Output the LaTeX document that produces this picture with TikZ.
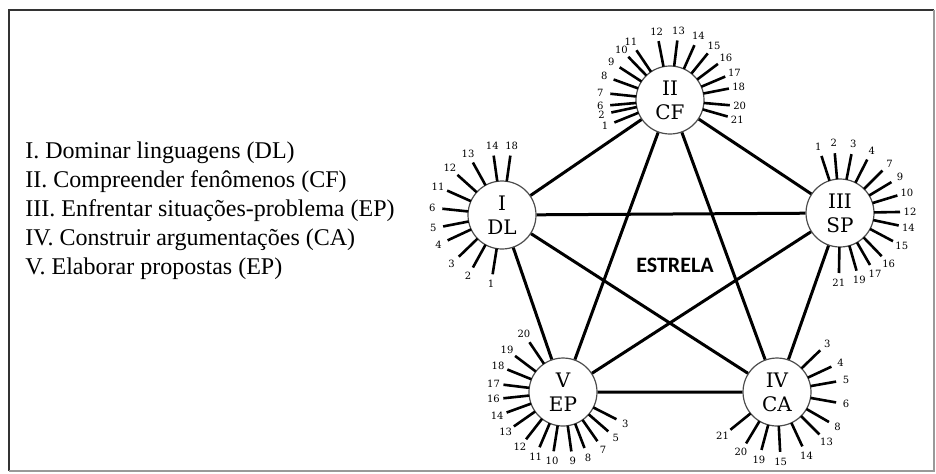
\documentclass[tikz,border=0pt]{standalone}
\usepackage{fontspec}
\setmainfont{Liberation Serif}
\newfontfamily\compfont{DejaVu Serif}
\newfontfamily\starfont{Carlito}

% radial ticks with their numbers round a competence
\newcommand{\spokes}[2]{%
  \foreach \a/\n in {#2} {
    \draw[spoke] ([shift={(\a:17pt)}]#1.center) -- ([shift={(\a:30pt)}]#1.center);
    \node[spokenum] (#1-\n) at ([shift={(\a:35pt)}]#1.center) {\n};
  }}

\begin{document}
\begin{tikzpicture}[x=0.5pt,y=-0.5pt,
  comp/.style={circle,draw=black!70,line width=0.6pt,fill=white,minimum size=34pt,
    inner sep=0pt,align=center,font=\compfont\fontsize{10}{12}\selectfont},
  link/.style={line width=1.5pt},
  spoke/.style={line width=1.3pt},
  spokenum/.style={inner sep=0pt,font=\compfont\fontsize{5}{6}\selectfont},
  item/.style={anchor=base west,inner sep=0pt,font=\fontsize{12}{14}\selectfont}]
\useasboundingbox (0,0) rectangle (936,473);
\draw[black!80,line width=1pt] (9,471) -- (9,10) -- (934,10);
\draw[black!40,line width=1pt] (934,10) -- (934,471) -- (9,471);

% list of competences
\node[item] (t1) at (25,158) {I. Dominar linguagens (DL)};
\node[item] (t2) at (25,187) {II. Compreender fenômenos (CF)};
\node[item] (t3) at (25,216) {III. Enfrentar situações-problema (EP)};
\node[item] (t4) at (25,245) {IV. Construir argumentações (CA)};
\node[item] (t5) at (25,274) {V. Elaborar propostas (EP)};

% the five points of the star
\node[comp] (I)   at (502,215) {I\\DL};
\node[comp] (II)  at (670,100) {II\\CF};
\node[comp] (III) at (840,213) {III\\SP};
\node[comp] (IV)  at (777,392) {IV\\CA};
\node[comp] (V)   at (563,392) {V\\EP};

\draw[link] (I) -- (II) -- (III) -- (IV) -- (V) -- (I);
\draw[link] (I) -- (III);
\draw[link] (I) -- (IV);
\draw[link] (II) -- (IV);
\draw[link] (II) -- (V);
\draw[link] (III) -- (V);

\node[font=\starfont\bfseries\fontsize{11}{13}\selectfont] (star) at (675,265) {ESTRELA};

\spokes{I}{82/18,98/14,119/13,138/12,156/11,174/6,191/5,205/4,224/3,241/2,261/1}
\spokes{II}{202/1,192/2,185/6,174/7,160/8,147/9,134/10,124/11,101/12,83/13,66/14,51/15,37/16,23/17,11/18,-5/20,-16/21}
\spokes{III}{108/1,95/2,79/3,63/4,45/7,31/9,17/10,1/12,-12/14,-28/15,-46/16,-60/17,-74/19,-91/21}
\spokes{IV}{44/3,25/4,10/5,-10/6,-30/8,-45/13,-65/14,-87/15,-105/19,-121/20,-141/21}
\spokes{V}{124/20,143/19,158/18,173/17,186/16,200/14,215/13,232/12,247/11,261/10,278/9,291/8,305/7,319/5,333/3}
\end{tikzpicture}
\end{document}
